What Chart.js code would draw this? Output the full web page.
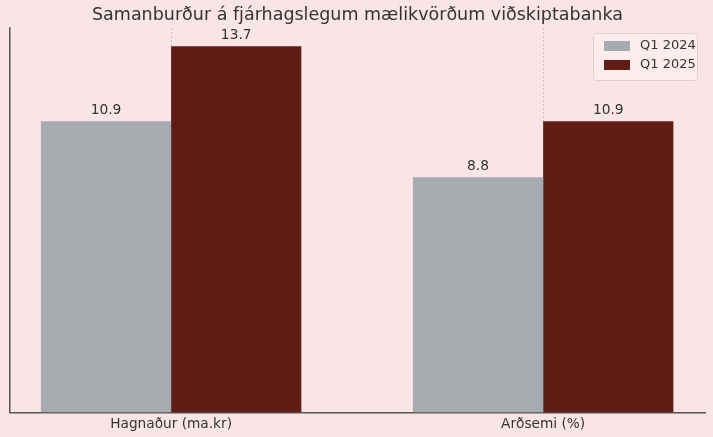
<!DOCTYPE html>
<html>
<head>
<meta charset="utf-8">
<script src="https://cdn.jsdelivr.net/npm/chart.js@4.4.1/dist/chart.umd.min.js"></script>
<style>
  html, body { margin: 0; padding: 0; background: #f9e5e5; }
  #chart { display: block; }
</style>
</head>
<body>
<canvas id="chart" width="713" height="437"></canvas>
<script>
// Chart data
const categories = ['Hagnaður (ma.kr)', 'Arðsemi (%)'];
const seriesNames = ['Q1 2024', 'Q1 2025'];
const values2024 = [10.9, 8.8];
const values2025 = [13.7, 10.9];
const seriesColors = ['#a6abb0', '#611c15'];
const titleText = 'Samanburður á fjárhagslegum mælikvörðum viðskiptabanka';

const FONT = "'DejaVu Sans', sans-serif";

// Value labels above each bar
const valueLabels = {
    id: 'valueLabels',
    afterDatasetsDraw(chart) {
        const ctx = chart.ctx;
        ctx.save();
        ctx.font = '13.8px ' + FONT;
        ctx.fillStyle = '#333333';
        ctx.textAlign = 'center';
        ctx.textBaseline = 'bottom';
        chart.data.datasets.forEach((ds, i) => {
            chart.getDatasetMeta(i).data.forEach((bar, j) => {
                ctx.fillText(ds.data[j].y.toFixed(1), bar.x, bar.y - 4);
            });
        });
        ctx.restore();
    }
};

// Legend box in the top right corner of the plot
const cornerLegend = {
    id: 'cornerLegend',
    afterDraw(chart) {
        const ctx = chart.ctx;
        const area = chart.chartArea;
        const w = 104, h = 47;
        const x = area.right - 8 - w, y = area.top + 5;
        ctx.save();
        ctx.fillStyle = 'rgba(252, 238, 238, 0.8)';
        ctx.strokeStyle = '#e0d0d0';
        ctx.lineWidth = 1;
        ctx.beginPath();
        ctx.roundRect(x + 0.5, y + 0.5, w, h, 3);
        ctx.fill();
        ctx.stroke();
        ctx.font = '13px ' + FONT;
        ctx.textBaseline = 'middle';
        chart.data.datasets.forEach((ds, i) => {
            const cy = y + 13 + i * 19;
            ctx.fillStyle = ds.backgroundColor;
            ctx.fillRect(x + 11, cy - 5, 26, 10);
            ctx.fillStyle = '#333333';
            ctx.fillText(ds.label, x + 47, cy);
        });
        ctx.restore();
    }
};

const bg = {
    id: 'bg',
    beforeDraw(chart) {
        const ctx = chart.ctx;
        ctx.save();
        ctx.fillStyle = '#f9e5e5';
        ctx.fillRect(0, 0, chart.width, chart.height);
        ctx.restore();
    }
};

new Chart(document.getElementById('chart'), {
    type: 'bar',
    data: {
        datasets: [
            {
                label: seriesNames[0],
                data: values2024.map((v, i) => ({ x: i, y: v })),
                backgroundColor: seriesColors[0]
            },
            {
                label: seriesNames[1],
                data: values2025.map((v, i) => ({ x: i, y: v })),
                backgroundColor: seriesColors[1]
            }
        ]
    },
    options: {
        responsive: false,
        animation: false,
        layout: { padding: { left: 10, right: 8, top: 0, bottom: 0 } },
        datasets: {
            bar: { categoryPercentage: 0.7, barPercentage: 1.0 }
        },
        plugins: {
            legend: { display: false },
            tooltip: { enabled: false },
            title: {
                display: true,
                text: titleText,
                color: '#333333',
                font: { family: FONT, size: 17.5, weight: 'normal' },
                padding: { top: 5, bottom: 2 }
            }
        },
        scales: {
            x: {
                type: 'linear',
                min: -0.433,
                max: 1.435,
                offset: false,
                z: 1,
                afterBuildTicks: scale => {
                    scale.ticks = categories.map((c, i) => ({ value: i }));
                },
                ticks: {
                    callback: v => categories[v],
                    color: '#333333',
                    font: { family: FONT, size: 13.7 },
                    padding: 4,
                    maxRotation: 0
                },
                grid: {
                    display: true,
                    offset: false,
                    color: 'rgba(160, 160, 160, 0.5)',
                    lineWidth: 1,
                    drawTicks: false
                },
                border: { display: true, color: '#555555', width: 1.5, dash: [2, 2] }
            },
            y: {
                min: 0,
                max: 14.385,
                ticks: { display: false },
                grid: { display: false, drawTicks: false },
                border: { display: true, color: '#555555', width: 1.5 }
            }
        }
    },
    plugins: [bg, valueLabels, cornerLegend]
});
</script>
</body>
</html>
